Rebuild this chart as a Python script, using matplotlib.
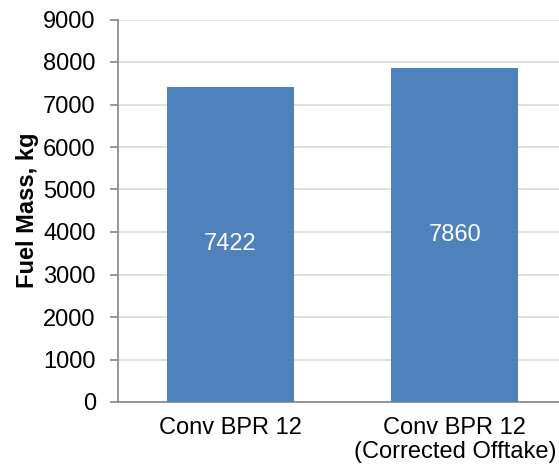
import matplotlib
matplotlib.use("Agg")
import matplotlib.pyplot as plt

categories = ["Conv BPR 12", "Conv BPR 12\n(Corrected Offtake)"]
fuel_mass = [7422, 7860]
yticks = [0, 1000, 2000, 3000, 4000, 5000, 6000, 7000, 8000, 9000]

FS = 17
plt.rcParams['font.family'] = ['Liberation Sans', 'DejaVu Sans']
fig = plt.figure(figsize=(5.59, 4.70), dpi=100)
ax = fig.add_axes([118/559, 1 - 402/470, 1 - 118/559, (402 - 19.5)/470])

x = list(range(len(categories)))
bars = ax.bar(x, fuel_mass, width=0.566, color='#4F81BD', zorder=3)
for xi, v in zip(x, fuel_mass):
    ax.text(xi, v / 2, f"{v}", ha='center', va='center', color='white', fontsize=FS, zorder=4)

ax.set_xlim(-0.5, 1.464)
ax.set_ylim(0, 9000)
ax.set_yticks(yticks)
ax.set_yticklabels([str(t) for t in yticks], fontsize=FS)
ax.set_xticks(x)
ax.set_xticklabels(categories, fontsize=FS, linespacing=1.1)
ax.tick_params(axis='x', length=0, pad=11)
ax.tick_params(axis='y', length=6, color='#868686', width=1.2, pad=10)
ax.grid(axis='y', color='#D9D9D9', linewidth=1.2, zorder=0)
for s in ['top', 'right']:
    ax.spines[s].set_visible(False)
for s in ['left', 'bottom']:
    ax.spines[s].set_color('#868686')
    ax.spines[s].set_linewidth(1.2)
ax.set_ylabel("Fuel Mass, kg", fontsize=FS, fontweight='bold')
ax.yaxis.set_label_coords(-(118 - 39) / 441, 0.5)

fig.savefig("out.png", dpi=100)
